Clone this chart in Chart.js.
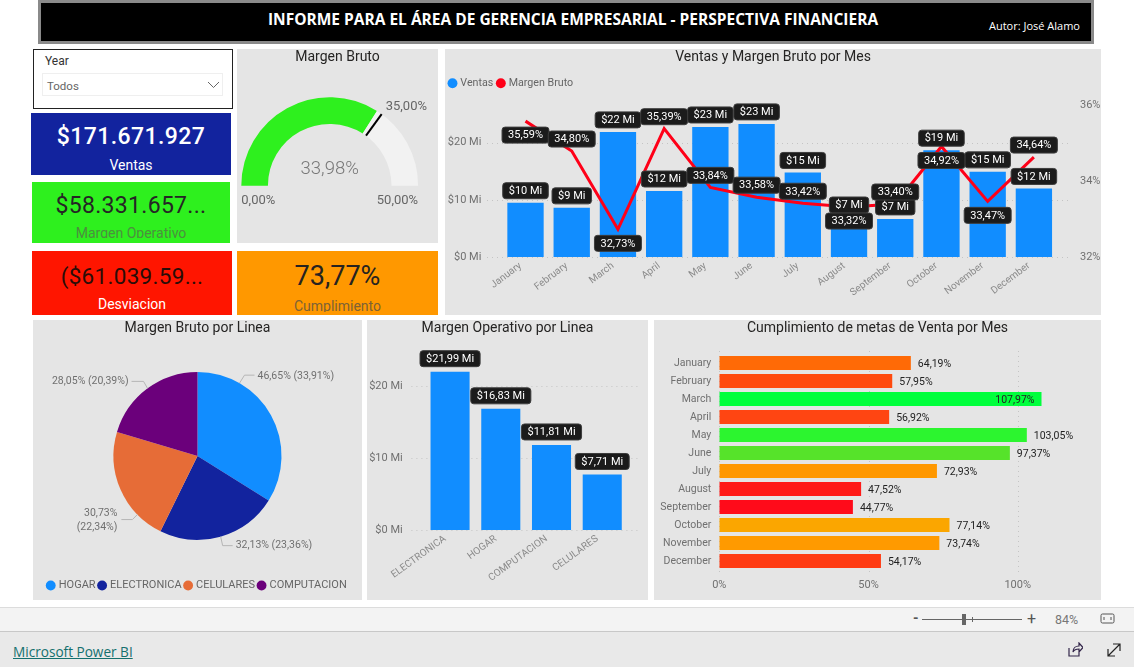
<!DOCTYPE html>
<html lang="es"><head><meta charset="utf-8">
<title>Informe</title>
<script src="https://cdn.jsdelivr.net/npm/chart.js@4/dist/chart.umd.js"></script>
<style>
html,body{margin:0;padding:0;background:#fff;width:1134px;height:667px;overflow:hidden;font-family:Roboto,sans-serif}
.abs,.panel,canvas{position:absolute}
.panel{background:#e5e5e5}
.card{position:absolute;overflow:hidden;text-align:center}
.card span{position:absolute;left:0;right:0;white-space:nowrap;line-height:1}
</style></head><body>
<div class="abs" style="left:38px;top:0;width:1050px;height:38px;background:#000;border:3px solid #8a8a8a"></div>
<div class="abs" style="left:38px;width:1070px;top:8px;text-align:center;color:#fff;font:700 15.5px 'Open Sans',sans-serif;white-space:nowrap">INFORME PARA EL ÁREA DE GERENCIA EMPRESARIAL - PERSPECTIVA FINANCIERA</div>
<div class="abs" style="left:989px;top:18px;color:#fff;font:11px 'Open Sans',sans-serif;white-space:nowrap">Autor: José Alamo</div>

<div class="abs" style="left:33px;top:49px;width:198px;height:58px;border:1.5px solid #222;background:#fff"></div>
<div class="abs" style="left:45px;top:54px;color:#333;font:12px Roboto,sans-serif">Year</div>
<div class="abs" style="left:42px;top:73px;width:179px;height:21px;border:1px solid #efefef;background:#fff"></div>
<div class="abs" style="left:47px;top:79px;color:#666;font:11.5px Roboto,sans-serif">Todos</div>
<svg class="abs" style="left:207px;top:81px" width="13" height="8"><path d="M1 1L6.500 6.500L12 1" fill="none" stroke="#666" stroke-width="1"/></svg>

<div class="card" style="left:31px;top:113px;width:200px;height:62px;background:#12239E">
  <span style="top:12px;color:#fff;font-size:23px;font-weight:500;letter-spacing:.4px">$171.671.927</span>
  <span style="top:45px;color:#fff;font-size:14px">Ventas</span></div>
<div class="card" style="left:32px;top:182px;width:198px;height:61px;background:#2EF01E">
  <span style="top:12px;color:#252525;font-size:23px;letter-spacing:.3px">$58.331.657...</span>
  <span style="top:44px;bottom:5px;color:#4c8f3e;font-size:14px;overflow:hidden;height:12px;line-height:14px">Margen Operativo</span></div>
<div class="card" style="left:32px;top:251px;width:200px;height:64px;background:#FF1500">
  <span style="top:14px;color:#2a0d08;font-size:22.5px;letter-spacing:.3px">($61.039.59...</span>
  <span style="top:46px;color:#fff;font-size:14px">Desviacion</span></div>
<div class="card" style="left:237px;top:251px;width:201px;height:64px;background:#FF9800">
  <span style="top:12px;color:#262320;font-size:27px">73,77%</span>
  <span style="top:48px;color:#7d6236;font-size:14px;height:13px;overflow:hidden;line-height:14px">Cumplimiento</span></div>

<div class="panel" style="left:237px;top:49px;width:201px;height:194px"><canvas id="gauge" width="201" height="194"></canvas></div>
<div class="panel" style="left:445px;top:49px;width:656px;height:266px"><canvas id="combo" width="656" height="266"></canvas></div>
<div class="panel" style="left:33px;top:320px;width:329px;height:280px"><canvas id="pie" width="329" height="280"></canvas></div>
<div class="panel" style="left:367px;top:320px;width:281px;height:280px"><canvas id="bars" width="281" height="280"></canvas></div>
<div class="panel" style="left:654px;top:320px;width:447px;height:280px"><canvas id="hbars" width="447" height="280"></canvas></div>

<div class="abs" style="left:0;top:607px;width:1134px;height:23px;background:#f3f3f3;border-top:1px solid #dcdcdc;border-bottom:1px solid #c8c8c8"></div>
<div class="abs" style="left:0;top:632px;width:1134px;height:35px;background:#e9e9e9"></div>
<div class="abs" style="left:913px;top:610px;color:#555;font:700 14px Roboto,sans-serif">-</div>
<div class="abs" style="left:922px;top:619px;width:100px;height:1px;background:#666"></div>
<div class="abs" style="left:962px;top:614px;width:4px;height:11px;background:#666"></div>
<div class="abs" style="left:972px;top:617px;width:1px;height:5px;background:#666"></div>
<div class="abs" style="left:1027px;top:609px;color:#555;font:16px Roboto,sans-serif">+</div>
<div class="abs" style="left:1055px;top:612px;color:#777;font:12.500px Roboto,sans-serif">84%</div>
<svg class="abs" style="left:1100px;top:612px" width="16" height="14"><rect x="1" y="2" width="13" height="9" rx="1.500" fill="none" stroke="#555"/><path d="M4 5v3M11 5v3" stroke="#555"/></svg>
<div class="abs" style="left:13px;top:642px;color:#14706e;font:13.6px 'Open Sans',sans-serif;text-decoration:underline;white-space:nowrap">Microsoft Power BI</div>
<svg class="abs" style="left:1067px;top:642px" width="16" height="16"><path d="M2 6v8h10v-4M6 10c0-4 3-6 6-6V1l4 4.500-4 4.500V7c-3 0-5 1-6 3z" fill="none" stroke="#33264a" stroke-width="1.200"/></svg>
<svg class="abs" style="left:1107px;top:643px" width="14" height="14"><path d="M1 13L13 1M6 1h7v7M1 6v7h7" fill="none" stroke="#222" stroke-width="1.200"/></svg>

<script>
// ---------- data ----------
const months = ['January','February','March','April','May','June','July','August','September','October','November','December'];
const ventasMi = [9.5,8.6,21.9,11.55,22.76,23.3,14.8,7.0,6.67,18.7,14.9,12.0];
const margenPct = [35.59,34.80,32.73,35.39,33.84,33.58,33.42,33.32,33.40,34.92,33.47,34.64];
const margenSide = ['below','above','below','above','above','above','above','below','above','below','below','above'];
const lineas = ['HOGAR','ELECTRONICA','CELULARES','COMPUTACION'];
const brutoMi = [46.65,32.13,30.73,28.05];
const brutoPct = ['33,91%','23,36%','22,34%','20,39%'];
const pieColors = ['#118DFF','#12239E','#E66C37','#6B007B'];
const opLineas = ['ELECTRONICA','HOGAR','COMPUTACION','CELULARES'];
const operativoMi = [21.99,16.83,11.81,7.71];
const metasPct = [64.19,57.95,107.97,56.92,103.05,97.37,72.93,47.52,44.77,77.14,73.74,54.17];
const metasColors = ['#FF6A06','#FF4A0E','#00FF3C','#FF4512','#2CF52F','#56E32A','#FF9800','#FF1A18','#FF0B1A','#FBA600','#FF9A00','#FF3A12'];
const gaugeValue = 33.98, gaugeTarget = 35, gaugeMax = 50;

// ---------- shared ----------
const FONT = 'Roboto, sans-serif';
const TXT = '#707070';
Chart.defaults.animation = false;
Chart.defaults.responsive = false;
Chart.defaults.font.family = FONT;
const comma = (v,d=2)=>v.toFixed(d).replace('.',',');
const fit = n => s => { if (s.isHorizontal()) s.height = n; else s.width = n; };
const noGrid = {display:false,drawTicks:false};
const titleOpt = (text,bottom)=>({display:true,text,color:'#252423',font:{size:14,weight:'normal',family:FONT,lineHeight:1.2},padding:{top:0,bottom}});
const noDotLegend = {sort:(a,b)=>a.datasetIndex-b.datasetIndex,generateLabels(c){const a=Chart.defaults.plugins.legend.labels.generateLabels(c);a.forEach(i=>{i.lineWidth=0;i.strokeStyle='transparent';});return a;}};
const titleShift = dx => ({id:'titleShift',afterLayout(ch){const t=ch.titleBlock;t.left+=dx;t.right+=dx;}});

function tag(ctx,text,cx,cy){
  ctx.save();
  ctx.font='11px '+FONT;
  const w=ctx.measureText(text).width+12,h=16;
  ctx.beginPath();ctx.roundRect(cx-w/2,cy-h/2,w,h,3);
  ctx.fillStyle='#1b1b1b';ctx.fill();ctx.strokeStyle='#3c3c3c';ctx.lineWidth=1;ctx.stroke();
  ctx.fillStyle='#fff';ctx.textAlign='center';ctx.textBaseline='middle';ctx.fillText(text,cx,cy+.5);
  ctx.restore();
}
function dots(scaleId,extraA,extraB){
  return {id:'dots'+scaleId,beforeDatasetsDraw(ch){
    const s=ch.scales[scaleId],a=ch.chartArea,ctx=ch.ctx;
    ctx.save();ctx.strokeStyle='#c4c4c4';ctx.lineWidth=1;ctx.setLineDash([1,4]);
    s.ticks.forEach(t=>{const p=Math.round(s.getPixelForValue(t.value))+.5;ctx.beginPath();
      if(s.isHorizontal()){ctx.moveTo(p,a.top-extraA);ctx.lineTo(p,a.bottom+extraB);}
      else{ctx.moveTo(a.left-extraA,p);ctx.lineTo(a.right+extraB,p);}
      ctx.stroke();});
    ctx.restore();}};
}
const legendGap = n => ({id:'legendGap',beforeInit(ch){const f=ch.legend.fit;ch.legend.fit=function(){f.call(this);this.height+=n;};}});

// ---------- gauge ----------
new Chart(document.getElementById('gauge'),{
  type:'doughnut',
  data:{labels:['Margen Bruto','Resto'],datasets:[{data:[gaugeValue,gaugeMax-gaugeValue],backgroundColor:['#2EF01E','#F2F2F2'],borderWidth:0}]},
  options:{rotation:-90,circumference:180,radius:88.4,cutout:'69.9%',
    layout:{padding:{top:0,bottom:25.8,left:0,right:15.6}},
    plugins:{legend:{display:false},tooltip:{enabled:false},title:titleOpt('Margen Bruto',0)}},
  plugins:[titleShift(7.8),{id:'gaugeText',afterDatasetsDraw(ch){
    const arc=ch.getDatasetMeta(0).data[0],ctx=ch.ctx,x=arc.x,y=arc.y;
    const ang=-Math.PI+Math.PI*gaugeTarget/gaugeMax;
    ctx.save();ctx.strokeStyle='#000';ctx.lineWidth=2;ctx.beginPath();
    ctx.moveTo(x+arc.innerRadius*Math.cos(ang),y+arc.innerRadius*Math.sin(ang));
    ctx.lineTo(x+arc.outerRadius*Math.cos(ang),y+arc.outerRadius*Math.sin(ang));ctx.stroke();
    ctx.textBaseline='middle';ctx.fillStyle='#777';
    ctx.font='300 18.5px '+FONT;ctx.textAlign='center';ctx.fillText(comma(gaugeValue)+'%',x,y-16.5);
    ctx.fillStyle='#666';ctx.font='13px '+FONT;
    ctx.textAlign='left';ctx.fillText('0,00%',x-arc.outerRadius,y+15);
    ctx.textAlign='right';ctx.fillText(comma(gaugeMax)+'%',x+arc.outerRadius,y+15);
    ctx.textAlign='left';ctx.fillText(comma(gaugeTarget)+'%',x+56,y-78.5);
    ctx.restore();}}]
});

// ---------- combo ----------
new Chart(document.getElementById('combo'),{
  data:{labels:months,datasets:[
    {type:'bar',label:'Ventas',data:ventasMi,backgroundColor:'#118DFF',borderWidth:0,categoryPercentage:1,barPercentage:.786,yAxisID:'y',order:2},
    {type:'line',label:'Margen Bruto',data:margenPct,borderColor:'#FF0018',backgroundColor:'#FF0018',borderWidth:3,pointRadius:0,tension:0,yAxisID:'y1',order:1}
  ]},
  options:{
    layout:{padding:{left:0,right:0,top:0,bottom:0}},
    scales:{
      x:{afterFit:fit(58),grid:noGrid,border:{display:false},ticks:{color:'#8a8a8a',font:{size:10},autoSkip:false,minRotation:37,maxRotation:37,padding:3,labelOffset:-5}},
      y:{position:'left',min:0,max:26.5,afterFit:fit(57.4),grid:noGrid,border:{display:false},ticks:{stepSize:10,includeBounds:false,color:TXT,font:{size:11},padding:21,callback:v=>'$'+v+' Mi'}},
      y1:{position:'right',min:32,max:36,afterFit:fit(44),grid:noGrid,border:{display:false},ticks:{stepSize:2,color:TXT,font:{size:11},padding:23,callback:v=>v+'%'}}
    },
    plugins:{tooltip:{enabled:false},
      title:titleOpt('Ventas y Margen Bruto por Mes',7.1),
      legend:{position:'top',align:'start',labels:{...noDotLegend,usePointStyle:true,boxWidth:5,boxHeight:7,padding:5,color:'#666',font:{size:10.7}}}}
  },
  plugins:[legendGap(7),dots('y',15.4,13),{id:'tags',afterDatasetsDraw(ch){
    const bars=ch.getDatasetMeta(0).data,pts=ch.getDatasetMeta(1).data,ctx=ch.ctx;
    bars.forEach((b,i)=>tag(ctx,'$'+Math.round(ventasMi[i])+' Mi',b.x,b.y-12));
    pts.forEach((p,i)=>tag(ctx,comma(margenPct[i])+'%',p.x,margenSide[i]==='above'?p.y-12:p.y+14));
  }}]
});

// ---------- pie ----------
const leaders=[
  {deg:30,pts:[[5,-8],[15,-8]],text:['46,65% (33,91%)'],tx:18,ty:-7,al:'left'},
  {deg:164,pts:[[2,9],[12,9]],text:['32,13% (23,36%)'],tx:15,ty:9,al:'left'},
  {deg:225.7,pts:[[-5,5],[-16,5]],text:['30,73%','(22,34%)'],tx:-20,ty:-1,al:'right'},
  {deg:323.5,pts:[[-4,-7],[-16,-7]],text:['28,05% (20,39%)'],tx:-19,ty:-7,al:'right'}
];
new Chart(document.getElementById('pie'),{
  type:'pie',
  data:{labels:lineas,datasets:[{data:brutoMi,backgroundColor:pieColors,borderWidth:0}]},
  options:{radius:84,
    layout:{padding:{bottom:-1}},
    plugins:{tooltip:{enabled:false},
      title:titleOpt('Margen Bruto por Linea',-1),
      legend:{position:'bottom',labels:{usePointStyle:true,boxWidth:5,boxHeight:7,padding:4,color:'#666',font:{size:11}}}}},
  plugins:[{id:'leaders',afterDatasetsDraw(ch){
    const arc=ch.getDatasetMeta(0).data[0],ctx=ch.ctx;
    ctx.save();ctx.font='10.5px '+FONT;ctx.textBaseline='middle';
    leaders.forEach(l=>{
      const r=l.deg*Math.PI/180,ax=arc.x+arc.outerRadius*Math.sin(r),ay=arc.y-arc.outerRadius*Math.cos(r);
      ctx.strokeStyle='#b5b5b5';ctx.lineWidth=1;ctx.beginPath();ctx.moveTo(ax,ay);
      l.pts.forEach(p=>ctx.lineTo(ax+p[0],ay+p[1]));ctx.stroke();
      ctx.fillStyle='#707070';ctx.textAlign=l.al;
      l.text.forEach((t,i)=>ctx.fillText(t,ax+l.tx,ay+l.ty+i*14));
    });
    ctx.restore();}}]
});

// ---------- bars ----------
new Chart(document.getElementById('bars'),{
  type:'bar',
  data:{labels:opLineas,datasets:[{label:'Margen Operativo',data:operativoMi,backgroundColor:'#118DFF',borderWidth:0,categoryPercentage:1,barPercentage:.77}]},
  options:{
    layout:{padding:{right:20.4}},
    scales:{
      x:{afterFit:fit(70),grid:noGrid,border:{display:false},ticks:{color:'#8a8a8a',font:{size:10},autoSkip:false,minRotation:36,maxRotation:36,padding:3,labelOffset:-5}},
      y:{min:0,max:25,afterFit:fit(57.7),grid:noGrid,border:{display:false},ticks:{stepSize:10,includeBounds:false,color:TXT,font:{size:11},padding:22,callback:v=>'$'+v+' Mi'}}
    },
    plugins:{legend:{display:false},tooltip:{enabled:false},title:titleOpt('Margen Operativo por Linea',13.2)}
  },
  plugins:[titleShift(10.2),dots('y',13.3,13),{id:'tags',afterDatasetsDraw(ch){
    ch.getDatasetMeta(0).data.forEach((b,i)=>tag(ch.ctx,'$'+comma(operativoMi[i])+' Mi',b.x,b.y-13));
  }}]
});

// ---------- horizontal bars ----------
new Chart(document.getElementById('hbars'),{
  type:'bar',
  data:{labels:months,datasets:[{label:'Cumplimiento',data:metasPct,backgroundColor:metasColors,borderWidth:0,categoryPercentage:1,barPercentage:.78}]},
  options:{indexAxis:'y',
    layout:{padding:{right:23.6}},
    scales:{
      x:{position:'bottom',min:0,max:120,afterFit:fit(30),grid:noGrid,border:{display:false},ticks:{stepSize:50,includeBounds:false,color:TXT,font:{size:11},padding:9,maxRotation:0,callback:v=>v+'%'}},
      y:{afterFit:fit(65.3),grid:noGrid,border:{display:false},ticks:{color:TXT,font:{size:10.5},padding:8,autoSkip:false}}
    },
    plugins:{legend:{display:false},tooltip:{enabled:false},title:titleOpt('Cumplimiento de metas de Venta por Mes',17.2)}
  },
  plugins:[titleShift(11.8),dots('x',3,5),{id:'vals',afterDatasetsDraw(ch){
    const ctx=ch.ctx;ctx.save();ctx.font='10.5px '+FONT;ctx.fillStyle='#222';ctx.textBaseline='middle';
    ch.getDatasetMeta(0).data.forEach((b,i)=>{
      const inside=metasPct[i]>105;
      ctx.textAlign=inside?'right':'left';
      ctx.fillText(comma(metasPct[i])+'%',inside?b.x-7:b.x+7,b.y+1.5);
    });ctx.restore();}}]
});
</script>
</body></html>
